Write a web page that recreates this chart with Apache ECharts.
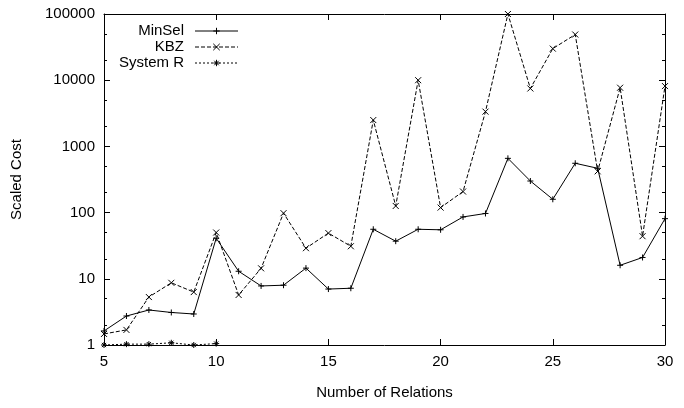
<!DOCTYPE html>
<html>
<head>
<meta charset="utf-8">
<script src="https://cdn.jsdelivr.net/npm/echarts@6/dist/echarts.min.js"></script>
<style>
    html, body { margin: 0; padding: 0; background: #fff; }
    #chart { width: 684px; height: 408px; }
</style>
</head>
<body>
<div id="chart"></div>
<script>
var relations = [5, 6, 7, 8, 9, 10, 11, 12, 13, 14, 15, 16, 17, 18, 19, 20, 21, 22, 23, 24, 25, 26, 27, 28, 29, 30];
var minSel = [1.63, 2.74, 3.38, 3.1, 2.94, 41, 13, 7.8, 8.0, 14.5, 7.0, 7.2, 56, 37, 56, 55, 86, 97, 660, 300, 159, 556, 467, 16, 21, 81];
var kbz = [1.47, 1.69, 5.3, 8.7, 6.3, 50, 5.7, 14.4, 98, 29, 49, 31, 2500, 126, 10000, 119, 208, 3350, 100000, 7500, 30000, 49000, 420, 7700, 44, 8150];
var systemR = [1.0, 1.03, 1.03, 1.08, 1.0, 1.05];
var minorTicks = [2, 5, 20, 50, 200, 500, 2000, 5000, 20000, 50000];

var font = 'Liberation Sans, Arial, Helvetica, sans-serif';
var plusPath = 'path://M0,5L10,5M5,0L5,10';
var crossPath = 'path://M0,0L10,10M10,0L0,10';
var starPath = 'path://M0,5L10,5M5,0L5,10M1.5,1.5L8.5,8.5M8.5,1.5L1.5,8.5';

function pairs(ys) {
    return ys.map(function(v, i) { return [relations[i], v]; });
}

var chart = echarts.init(document.getElementById('chart'), null, {renderer: 'canvas'});

function yAxisDef(pos, minor) {
    return {
        type: 'log',
        logBase: 10,
        min: 1,
        max: 100000,
        position: pos,
        axisLine: {show: !minor, lineStyle: {color: '#000', width: 1}},
        axisTick: minor ? {
            show: true, inside: true, length: 3,
            customValues: minorTicks,
            lineStyle: {color: '#000', width: 1}
        } : {show: true, inside: true, length: 6, lineStyle: {color: '#000', width: 1}},
        axisLabel: {
            show: pos === 'left' && !minor,
            color: '#000',
            fontSize: 15,
            fontFamily: font,
            margin: 9,
            formatter: function(v) { return String(Math.round(v)); }
        },
        splitLine: {show: false},
        minorTick: {show: false},
        name: (pos === 'left' && !minor) ? 'Scaled Cost' : '',
        nameLocation: 'middle',
        nameRotate: 90,
        nameGap: 80,
        nameTextStyle: {color: '#000', fontSize: 15, fontFamily: font}
    };
}

function xAxisDef(pos) {
    return {
        type: 'value',
        min: 5,
        max: 30,
        interval: 5,
        position: pos,
        axisLine: {show: true, onZero: false, lineStyle: {color: '#000', width: 1}},
        axisTick: {show: true, inside: true, length: 6, lineStyle: {color: '#000', width: 1}},
        axisLabel: {
            show: pos === 'bottom',
            color: '#000',
            fontSize: 15,
            fontFamily: font,
            margin: 9
        },
        splitLine: {show: false},
        name: pos === 'bottom' ? 'Number of Relations' : '',
        nameLocation: 'middle',
        nameGap: 40,
        nameTextStyle: {color: '#000', fontSize: 15, fontFamily: font}
    };
}

var option = {
    animation: false,
    backgroundColor: '#fff',
    textStyle: {fontFamily: font},
    grid: {left: 104, right: 19, top: 14, bottom: 63},
    legend: {
        orient: 'vertical',
        align: 'right',
        left: 119,
        top: 23,
        padding: 0,
        itemWidth: 43,
        itemHeight: 8,
        itemGap: 0,
        lineStyle: {width: 1},
        itemStyle: {borderWidth: 1},
        textStyle: {color: '#000', fontSize: 15, fontFamily: font, lineHeight: 16, padding: [0, 6, 0, 0]},
        data: ['MinSel', 'KBZ', 'System R']
    },
    xAxis: [xAxisDef('bottom'), xAxisDef('top')],
    yAxis: [yAxisDef('left', false), yAxisDef('right', false), yAxisDef('left', true), yAxisDef('right', true)],
    series: [
        {
            name: 'MinSel',
            type: 'line',
            data: pairs(minSel),
            symbol: plusPath,
            symbolSize: 6,
            lineStyle: {color: '#000', width: 1, type: 'solid'},
            itemStyle: {color: '#000', borderColor: '#000', borderWidth: 1}
        },
        {
            name: 'KBZ',
            type: 'line',
            data: pairs(kbz),
            symbol: crossPath,
            symbolSize: 6,
            lineStyle: {color: '#000', width: 1, type: [4, 2]},
            itemStyle: {color: '#000', borderColor: '#000', borderWidth: 1}
        },
        {
            name: 'System R',
            type: 'line',
            data: pairs(systemR),
            symbol: starPath,
            symbolSize: 6,
            lineStyle: {color: '#000', width: 1, type: [2, 2]},
            itemStyle: {color: '#000', borderColor: '#000', borderWidth: 1}
        }
    ]
};
chart.setOption(option);
</script>
</body>
</html>
